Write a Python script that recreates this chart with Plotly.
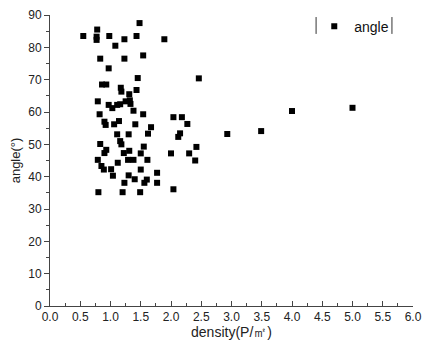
import plotly.graph_objects as go

density = [0.55, 0.78, 0.77, 0.77, 0.98, 1.23, 1.43, 1.08, 1.48, 1.89,
           1.54, 0.83, 1.23, 0.97, 1.45, 0.86, 0.93, 1.17, 1.18, 1.43,
           1.31, 0.79, 0.97, 1.03, 1.11, 1.16, 1.25, 1.32, 1.33, 1.38,
           1.54, 0.82, 0.90, 0.92, 1.06, 1.14, 1.41, 1.67, 1.62, 1.11,
           1.30, 1.16, 1.18, 1.55, 0.83, 0.93, 0.90, 1.22, 1.31, 1.50,
           0.79, 1.12, 1.29, 1.38, 1.61, 0.85, 0.89, 1.01, 1.50, 1.04,
           1.30, 1.40, 1.23, 1.56, 1.60, 1.77, 1.77, 0.80, 1.20, 1.49,
           2.04, 2.18, 2.27, 2.15, 2.12, 2.93, 2.00, 2.30, 2.42, 2.40,
           2.04, 2.46, 4.00, 5.00, 3.49]
angle = [83.5, 85.5, 83.3, 82.3, 83.5, 82.5, 83.5, 80.5, 87.5, 82.5,
         77.5, 76.5, 76.5, 73.5, 70.5, 68.5, 68.5, 67.5, 66.3, 66.8,
         65.5, 63.3, 62.2, 61.2, 62.2, 62.4, 63.3, 63.6, 62.5, 60.4,
         59.3, 59.3, 57.0, 56.0, 56.2, 57.2, 56.2, 55.3, 53.3, 53.1,
         53.1, 51.0, 50.0, 49.3, 50.1, 48.3, 47.3, 47.3, 48.0, 47.2,
         45.2, 44.3, 45.2, 45.2, 45.2, 43.3, 42.2, 42.3, 42.2, 40.3,
         40.4, 39.2, 38.1, 38.1, 39.1, 41.2, 38.1, 35.2, 35.2, 35.2,
         58.4, 58.4, 56.3, 53.4, 52.3, 53.2, 47.2, 47.2, 49.2, 45.0,
         36.1, 70.4, 60.3, 61.3, 54.1]

x_ticks = [0.0, 0.5, 1.0, 1.5, 2.0, 2.5, 3.0, 3.5, 4.0, 4.5, 5.0, 5.5, 6.0]
y_ticks = [0, 10, 20, 30, 40, 50, 60, 70, 80, 90]

font = "Liberation Sans, Arial, sans-serif"

fig = go.Figure()
fig.add_trace(go.Scatter(
    x=density, y=angle, mode="markers", name="angle",
    marker=dict(symbol="square", size=6, color="#000000", line=dict(width=0)),
))

axis_common = dict(
    showline=True, linecolor="#444444", linewidth=1,
    tickcolor="#444444", tickwidth=1,
    showgrid=False, zeroline=False, mirror=False, automargin=False,
    tickfont=dict(family=font, size=12, color="#222222"),
)

fig.update_xaxes(
    range=[0, 6], tickvals=x_ticks, ticktext=[f"{v:.1f}" for v in x_ticks],
    ticks="inside", ticklen=5,
    minor=dict(dtick=0.25, ticklen=3, tickcolor="#444444", ticks="inside", showgrid=False),
    title=dict(text="density(P/㎡)", font=dict(family=font, size=14, color="#222222"), standoff=1),
    **axis_common,
)
fig.update_yaxes(
    range=[0, 90], tickvals=y_ticks, ticktext=[str(v) for v in y_ticks],
    ticks="outside", ticklen=5,
    minor=dict(dtick=5, ticklen=3, tickcolor="#444444", ticks="outside", showgrid=False),
    title=dict(text="angle(°)", font=dict(family=font, size=13, color="#222222"), standoff=4),
    **axis_common,
)

fig.update_layout(
    width=423, height=352,
    margin=dict(l=49.5, r=10, t=15, b=46),
    paper_bgcolor="white", plot_bgcolor="white",
    showlegend=True,
    legend=dict(x=0.728, y=1.015, xanchor="left", yanchor="top",
                font=dict(family=font, size=14, color="#111111"),
                bgcolor="rgba(0,0,0,0)", borderwidth=0, itemwidth=30),
    shapes=[
        dict(type="line", xref="paper", yref="paper", x0=0.733, x1=0.733, y0=0.935, y1=0.993,
             line=dict(color="#333333", width=1)),
        dict(type="line", xref="paper", yref="paper", x0=0.942, x1=0.942, y0=0.935, y1=0.993,
             line=dict(color="#333333", width=1)),
    ],
)

fig.write_html(
    "out.html",
    config={"displayModeBar": False},
    post_script="document.body.style.margin='0';document.body.style.overflow='hidden';",
)
